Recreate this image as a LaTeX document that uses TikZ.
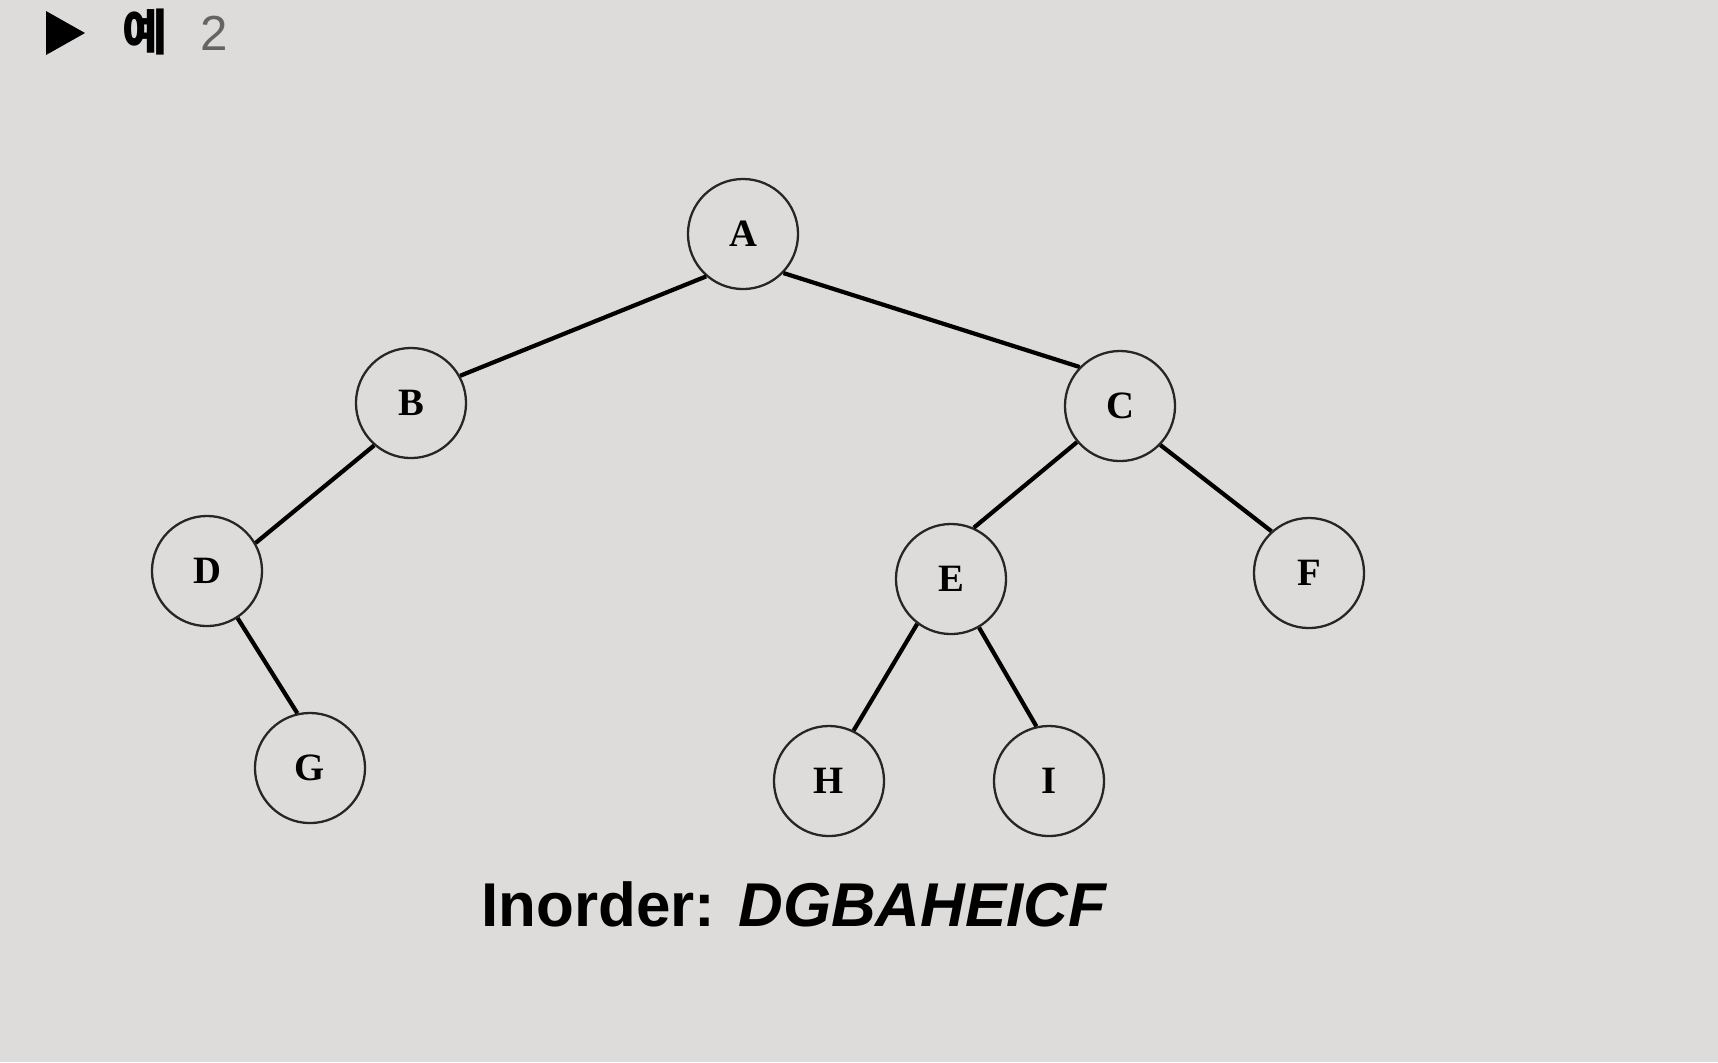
\documentclass[tikz,border=0pt]{standalone}
\usepackage{fontspec}
\setmainfont{Liberation Serif}
\newfontfamily\sansf{Liberation Sans}
\newfontfamily\kofont{Noto Sans CJK KR}
\usetikzlibrary{calc}
\definecolor{fond}{RGB}{221,220,219}
\definecolor{gris}{RGB}{100,100,100}
\tikzset{
  noeud/.style={circle,draw=black!85,line width=0.65pt,minimum size=1.1cm,inner sep=0pt,
    font=\fontsize{11}{12}\selectfont\bfseries},
  arete/.style={line width=1.2pt}
}

\begin{document}
\begin{tikzpicture}[x=0.01cm,y=-0.01cm]
          % Fond
          \fill[fond] (0,0) rectangle (1718,1062);
          \useasboundingbox (0,0) rectangle (1718,1062);

          % Titre
          \fill (46,11) -- (85,33) -- (46,55) -- cycle;
          \node (titre) at (145,32) {\kofont\fontsize{14}{16}\selectfont\bfseries 예};
          \node[gris] (num) at (214,33) {\sansf\fontsize{14}{16}\selectfont 2};

          % Noeuds
          \foreach \nom/\x/\y in {
            A/743/234,
            B/411/403,
            C/1120/406,
            D/207/571,
            E/951/579,
            F/1309/573,
            G/310/768,
            H/829/781,
            I/1049/781
          } {
            \node[noeud] (\nom) at (\x,\y) {\nom};
          }

          % Aretes
          \foreach \a/\u/\b/\v in {A/229/B/29, A/316/C/136, B/229/D/30, D/303/G/103,
                                   C/220/E/66, C/316/F/132, E/233/H/64, E/300/I/103} {
            \draw[arete] (\a.\u) -- (\b.\v);
          }

          % Parcours
          \node (parcours) at (794,904)
            {\sansf\fontsize{17.6}{20}\selectfont\bfseries Inorder: \itshape DGBAHEICF};

        \end{tikzpicture}
\end{document}
